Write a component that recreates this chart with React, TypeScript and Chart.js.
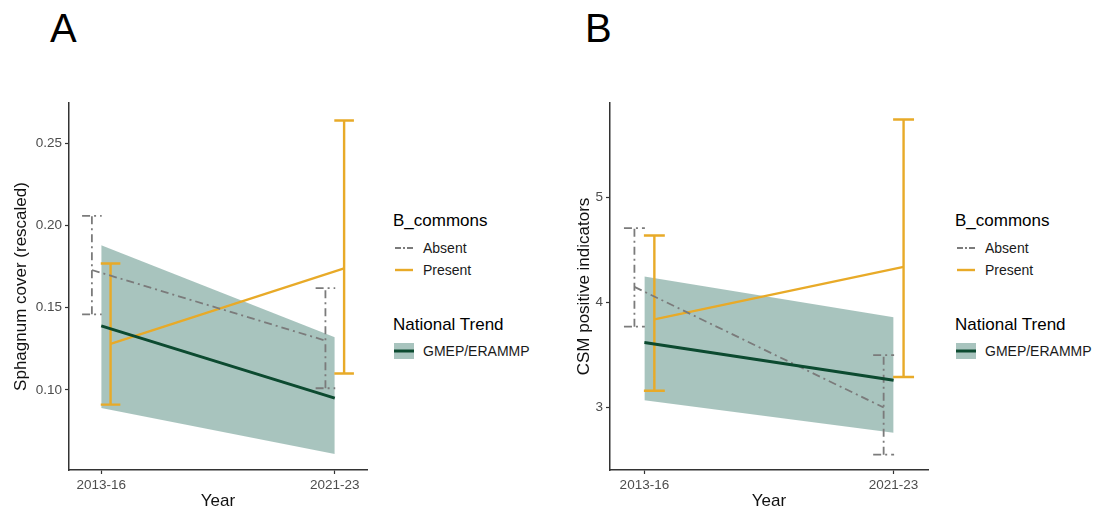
import React, { useEffect, useRef } from 'react';
import { Chart, registerables } from 'chart.js';

Chart.register(...registerables);

// ---------- data ----------
const categories = ['2013-16', '2021-23'];
const xPositions = [1, 2];

// Panel A: Sphagnum cover (rescaled)
const absentMeanA = [0.173, 0.130];
const absentLowA = [0.146, 0.101];
const absentHighA = [0.206, 0.162];
const presentMeanA = [0.128, 0.174];
const presentLowA = [0.091, 0.110];
const presentHighA = [0.177, 0.264];
const trendA = [0.139, 0.095];
const trendLowA = [0.089, 0.061];
const trendHighA = [0.188, 0.132];
const yTicksA = [0.10, 0.15, 0.20, 0.25];
const yTickLabelsA = ['0.10', '0.15', '0.20', '0.25'];

// Panel B: CSM positive indicators
const absentMeanB = [4.15, 3.0];
const absentLowB = [3.77, 2.55];
const absentHighB = [4.71, 3.50];
const presentMeanB = [3.84, 4.34];
const presentLowB = [3.16, 3.29];
const presentHighB = [4.64, 5.745];
const trendB = [3.62, 3.26];
const trendLowB = [3.07, 2.76];
const trendHighB = [4.25, 3.86];
const yTicksB = [3, 4, 5];
const yTickLabelsB = ['3', '4', '5'];

// ---------- style ----------
const FONT = '"Liberation Sans", Arial, Helvetica, sans-serif';
const COLORS = {
  absent: '#7b7b7b',
  present: '#E8AA28',
  trend: '#0C4A30',
  ribbon: 'rgba(20,95,80,0.37)',
  axis: '#333333',
  tick: '#4d4d4d',
};
const DODGE = 0.04;
const CAP = 0.042;
const X_MIN = 0.862;
const X_MAX = 2.138;
const DASHDOT = [8, 4, 2, 4];

type Pt = { x: number; y: number | null };

function linePoints(ys: number[], offset: number): Pt[] {
  return xPositions.map((x, i) => ({ x: x + offset, y: ys[i] }));
}

function errorBarPoints(lo: number[], hi: number[], offset: number): Pt[] {
  const pts: Pt[] = [];
  xPositions.forEach((x0, i) => {
    const x = x0 + offset;
    pts.push({ x, y: lo[i] }, { x, y: hi[i] }, { x, y: null });
    pts.push({ x: x - CAP, y: hi[i] }, { x: x + CAP, y: hi[i] }, { x, y: null });
    pts.push({ x: x - CAP, y: lo[i] }, { x: x + CAP, y: lo[i] }, { x, y: null });
  });
  return pts;
}

interface PanelData {
  absentMean: number[]; absentLow: number[]; absentHigh: number[];
  presentMean: number[]; presentLow: number[]; presentHigh: number[];
  trend: number[]; trendLow: number[]; trendHigh: number[];
  yTicks: number[]; yTickLabels: string[];
  yMin: number; yMax: number;
  yTitle: string;
  yAxisWidth: number; yTitlePad: number; rightPad: number;
}

function buildConfig(d: PanelData): any {
  const base = { pointRadius: 0, pointHoverRadius: 0, spanGaps: false, tension: 0 };
  return {
    type: 'line',
    data: {
      datasets: [
        { ...base, label: 'GMEP/ERAMMP', data: linePoints(d.trend, 0), borderColor: COLORS.trend, borderWidth: 3, order: 0, fill: false },
        { ...base, label: 'Absent', data: linePoints(d.absentMean, -DODGE), borderColor: COLORS.absent, borderWidth: 1.8, borderDash: DASHDOT, order: 1, fill: false },
        { ...base, label: 'Present', data: linePoints(d.presentMean, DODGE), borderColor: COLORS.present, borderWidth: 2.2, order: 1, fill: false },
        { ...base, label: 'Absent err', data: errorBarPoints(d.absentLow, d.absentHigh, -DODGE), borderColor: COLORS.absent, borderWidth: 1.8, borderDash: DASHDOT, order: 1, fill: false },
        { ...base, label: 'Present err', data: errorBarPoints(d.presentLow, d.presentHigh, DODGE), borderColor: COLORS.present, borderWidth: 2.4, order: 1, fill: false },
        { ...base, label: 'ribbon low', data: linePoints(d.trendLow, 0), borderWidth: 0, borderColor: 'rgba(0,0,0,0)', order: 2, fill: false },
        { ...base, label: 'ribbon high', data: linePoints(d.trendHigh, 0), borderWidth: 0, borderColor: 'rgba(0,0,0,0)', backgroundColor: COLORS.ribbon, order: 2, fill: '-1' },
      ],
    },
    options: {
      responsive: false,
      animation: false,
      events: [],
      devicePixelRatio: 1,
      layout: { padding: { top: 103, left: 0, right: d.rightPad, bottom: 0 } },
      plugins: { legend: { display: false }, tooltip: { enabled: false } },
      scales: {
        x: {
          type: 'linear',
          min: X_MIN,
          max: X_MAX,
          afterBuildTicks: (s: any) => { s.ticks = xPositions.map((v) => ({ value: v })); },
          afterFit: (s: any) => { s.height = 48; },
          ticks: {
            autoSkip: false,
            maxRotation: 0,
            padding: 3,
            color: COLORS.tick,
            font: { family: FONT, size: 13.5 },
            callback: (v: number) => categories[xPositions.indexOf(v)] ?? '',
          },
          grid: { drawOnChartArea: false, drawTicks: true, tickLength: 4, tickColor: COLORS.axis, tickWidth: 1.2 },
          border: { display: true, color: COLORS.axis, width: 1.5 },
          title: { display: true, text: 'Year', color: '#111', font: { family: FONT, size: 17 }, padding: { top: 0, bottom: 6.8 } },
        },
        y: {
          type: 'linear',
          min: d.yMin,
          max: d.yMax,
          afterBuildTicks: (s: any) => { s.ticks = d.yTicks.map((v) => ({ value: v })); },
          afterFit: (s: any) => { s.width = d.yAxisWidth; },
          ticks: {
            padding: 3,
            color: COLORS.tick,
            font: { family: FONT, size: 13.5 },
            callback: (v: number) => d.yTickLabels[d.yTicks.indexOf(v)] ?? '',
          },
          grid: { drawOnChartArea: false, drawTicks: true, tickLength: 4, tickColor: COLORS.axis, tickWidth: 1.2 },
          border: { display: true, color: COLORS.axis, width: 1.5 },
          title: { display: true, text: d.yTitle, color: '#111', font: { family: FONT, size: 17 }, padding: { top: d.yTitlePad, bottom: 0 } },
        },
      },
    },
  };
}

function Panel({ left, width, data }: { left: number; width: number; data: PanelData }) {
  const ref = useRef<HTMLCanvasElement | null>(null);
  useEffect(() => {
    if (!ref.current) return;
    const chart = new Chart(ref.current, buildConfig(data));
    return () => chart.destroy();
  }, []);
  return (
    <div style={{ position: 'absolute', left, top: 0, width, height: 518 }}>
      <canvas ref={ref} width={width} height={518} style={{ width, height: 518, display: 'block' }} />
    </div>
  );
}

function Legend({ left }: { left: number }) {
  const title: React.CSSProperties = { position: 'absolute', left, fontFamily: FONT, fontSize: 17, color: '#000', lineHeight: '20px', whiteSpace: 'nowrap' };
  const label: React.CSSProperties = { position: 'absolute', left: left + 30, fontFamily: FONT, fontSize: 14, color: '#1a1a1a', lineHeight: '16px', whiteSpace: 'nowrap' };
  const key = (top: number, child: React.ReactNode) => (
    <svg style={{ position: 'absolute', left: left + 1, top }} width={20} height={18}>{child}</svg>
  );
  return (
    <>
      <div style={{ ...title, top: 211 }}>B_commons</div>
      {key(239, <line x1={1} y1={9} x2={19} y2={9} stroke={COLORS.absent} strokeWidth={2} strokeDasharray="6 2 2 2" />)}
      <div style={{ ...label, top: 240 }}>Absent</div>
      {key(261, <line x1={1} y1={9} x2={19} y2={9} stroke={COLORS.present} strokeWidth={2.4} />)}
      <div style={{ ...label, top: 262 }}>Present</div>
      <div style={{ ...title, top: 315 }}>National Trend</div>
      {key(342, <>
        <rect x={0} y={1} width={20} height={16} fill={COLORS.ribbon} />
        <line x1={0} y1={9} x2={20} y2={9} stroke={COLORS.trend} strokeWidth={3} />
      </>)}
      <div style={{ ...label, top: 343 }}>GMEP/ERAMMP</div>
    </>
  );
}

const panelA: PanelData = {
  absentMean: absentMeanA, absentLow: absentLowA, absentHigh: absentHighA,
  presentMean: presentMeanA, presentLow: presentLowA, presentHigh: presentHighA,
  trend: trendA, trendLow: trendLowA, trendHigh: trendHighA,
  yTicks: yTicksA, yTickLabels: yTickLabelsA,
  yMin: 0.0512, yMax: 0.2747,
  yTitle: 'Sphagnum cover (rescaled)',
  yAxisWidth: 69, yTitlePad: 11.5, rightPad: 13,
};

const panelB: PanelData = {
  absentMean: absentMeanB, absentLow: absentLowB, absentHigh: absentHighB,
  presentMean: presentMeanB, presentLow: presentLowB, presentHigh: presentHighB,
  trend: trendB, trendLow: trendLowB, trendHigh: trendHighB,
  yTicks: yTicksB, yTickLabels: yTickLabelsB,
  yMin: 2.404, yMax: 5.903,
  yTitle: 'CSM positive indicators',
  yAxisWidth: 70, yTitlePad: 33.8, rightPad: 12,
};

export default function App() {
  const labelStyle: React.CSSProperties = { position: 'absolute', top: 8, fontFamily: FONT, fontSize: 40, lineHeight: '40px', color: '#000' };
  return (
    <div style={{ position: 'absolute', left: 0, top: 0, width: 1097, height: 518, background: '#fff', overflow: 'hidden' }}>
      <div style={{ ...labelStyle, left: 50 }}>A</div>
      <div style={{ ...labelStyle, left: 585 }}>B</div>
      <Panel left={0} width={380} data={panelA} />
      <Panel left={540} width={400} data={panelB} />
      <Legend left={393} />
      <Legend left={955} />
    </div>
  );
}
